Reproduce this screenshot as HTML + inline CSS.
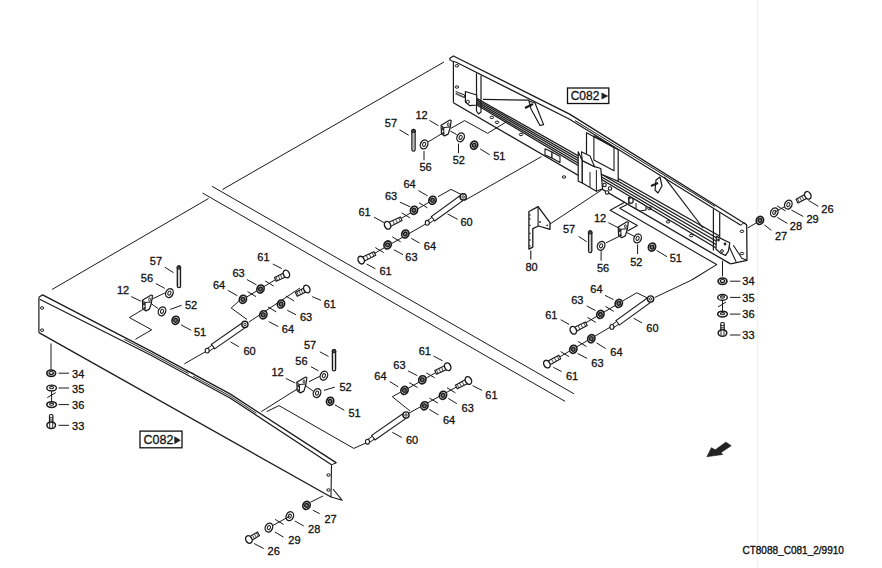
<!DOCTYPE html>
<html><head><meta charset="utf-8"><style>
html,body{margin:0;padding:0;background:#fff;}
svg{display:block;}
text{font-family:"Liberation Sans",sans-serif;fill:#111;}
</style></head><body>
<svg width="882" height="568" viewBox="0 0 882 568">
<rect width="882" height="568" fill="#fff"/>
<line x1="757.5" y1="0.0" x2="757.5" y2="568.0" stroke="#e8e8e8" stroke-width="0.6"/>
<line x1="52.0" y1="289.5" x2="208.5" y2="198.5" stroke="#1a1a1a" stroke-width="1.0"/>
<line x1="222.5" y1="189.5" x2="444.0" y2="62.0" stroke="#1a1a1a" stroke-width="1.0"/>
<line x1="212.0" y1="186.3" x2="574.0" y2="393.8" stroke="#1a1a1a" stroke-width="1.0"/>
<line x1="202.5" y1="193.0" x2="565.0" y2="401.3" stroke="#1a1a1a" stroke-width="1.0"/>
<polyline points="449.5,58.5 453.4,56.0 569.6,114.1 746.7,224.8" fill="none" stroke="#1a1a1a" stroke-width="1.3" stroke-linejoin="round"/>
<polyline points="450.5,60.5 456.2,62.3 569.2,119.0 740.8,225.3" fill="none" stroke="#1a1a1a" stroke-width="1.2" stroke-linejoin="round"/>
<line x1="449.5" y1="58.5" x2="450.5" y2="60.5" stroke="#1a1a1a" stroke-width="1.2"/>
<polyline points="575.0,120.6 650.0,166.4 715.0,206.5" fill="none" stroke="#1a1a1a" stroke-width="1.0" stroke-linejoin="round"/>
<line x1="453.4" y1="61.3" x2="453.4" y2="102.8" stroke="#1a1a1a" stroke-width="1.2"/>
<line x1="453.4" y1="102.8" x2="730.5" y2="263.9" stroke="#1a1a1a" stroke-width="1.3"/>
<polyline points="746.7,224.8 747.0,260.4 730.5,263.9" fill="none" stroke="#1a1a1a" stroke-width="1.3" stroke-linejoin="round"/>
<polyline points="740.8,225.3 744.0,222.5 746.7,224.8" fill="none" stroke="#1a1a1a" stroke-width="1.0" stroke-linejoin="round"/>
<polyline points="729.0,246.3 736.1,261.8" fill="none" stroke="#1a1a1a" stroke-width="1.1" stroke-linejoin="round"/>
<polyline points="733.3,245.2 741.8,258.2 746.5,260.0" fill="none" stroke="#1a1a1a" stroke-width="1.1" stroke-linejoin="round"/>
<line x1="466.0" y1="92.3" x2="719.5" y2="236.0" stroke="#1a1a1a" stroke-width="1.3"/>
<line x1="466.0" y1="93.8" x2="719.5" y2="239.5" stroke="#1a1a1a" stroke-width="1.3"/>
<line x1="466.0" y1="95.4" x2="719.5" y2="243.0" stroke="#1a1a1a" stroke-width="1.3"/>
<line x1="466.0" y1="97.0" x2="719.5" y2="246.5" stroke="#1a1a1a" stroke-width="1.3"/>
<line x1="466.0" y1="98.5" x2="719.5" y2="250.0" stroke="#1a1a1a" stroke-width="1.3"/>
<polyline points="476.5,73.2 476.5,111.0 478.5,114.0 481.0,112.0 481.0,75.5" fill="none" stroke="#1a1a1a" stroke-width="1.2" stroke-linejoin="round"/>
<polyline points="713.4,209.2 713.4,250.4" fill="none" stroke="#1a1a1a" stroke-width="1.2" stroke-linejoin="round"/>
<polyline points="719.7,212.8 719.7,252.0" fill="none" stroke="#1a1a1a" stroke-width="1.2" stroke-linejoin="round"/>
<line x1="483.0" y1="99.3" x2="529.5" y2="100.2" stroke="#1a1a1a" stroke-width="1.2"/>
<line x1="664.2" y1="176.9" x2="703.0" y2="228.0" stroke="#1a1a1a" stroke-width="1.2"/>
<polygon points="465.4,91.5 476.7,95.0 476.7,105.0 469.6,105.6 465.4,102.0" fill="#fff" stroke="#1a1a1a" stroke-width="1.2" stroke-linejoin="round"/>
<circle cx="467.8" cy="101.8" r="1.6" fill="#fff" stroke="#1a1a1a" stroke-width="1"/>
<polyline points="455.6,91.5 464.7,95.0 464.7,98.0" fill="none" stroke="#1a1a1a" stroke-width="1.0" stroke-linejoin="round"/>
<line x1="455.6" y1="93.5" x2="464.5" y2="97.5" stroke="#555" stroke-width="1.6"/>
<polygon points="529.0,101.0 535.0,103.0 543.6,124.6 540.0,125.5 531.0,109.0" fill="#fff" stroke="#1a1a1a" stroke-width="1.2" stroke-linejoin="round"/>
<line x1="525.0" y1="108.0" x2="533.0" y2="104.0" stroke="#1a1a1a" stroke-width="2.2"/>
<polygon points="656.0,180.0 660.0,177.0 662.0,186.0 658.0,193.0 655.0,190.0" fill="#fff" stroke="#1a1a1a" stroke-width="1.2" stroke-linejoin="round"/>
<line x1="651.0" y1="186.0" x2="658.0" y2="183.0" stroke="#1a1a1a" stroke-width="2.0"/>
<polygon points="586.5,132.7 586.5,168.0 618.2,181.3 618.2,149.6" fill="#fff" stroke="#1a1a1a" stroke-width="1.2" stroke-linejoin="round"/>
<polyline points="593.9,135.8 593.9,160.1 614.0,170.7 614.0,147.5 593.9,135.8" fill="none" stroke="#1a1a1a" stroke-width="1.1" stroke-linejoin="round"/>
<polygon points="578.2,151.8 578.2,181.2 582.3,183.0 582.3,160.6" fill="#fff" stroke="#1a1a1a" stroke-width="1.2" stroke-linejoin="round"/>
<polygon points="582.3,160.6 582.3,183.0 596.4,191.3 602.5,188.7 600.8,168.5 594.6,166.7" fill="#fff" stroke="#1a1a1a" stroke-width="1.2" stroke-linejoin="round"/>
<polygon points="581.4,151.8 590.0,156.0 594.6,166.7 582.3,160.6" fill="#fff" stroke="#1a1a1a" stroke-width="1.1" stroke-linejoin="round"/>
<line x1="596.4" y1="170.0" x2="596.4" y2="191.3" stroke="#1a1a1a" stroke-width="1.0"/>
<line x1="590.0" y1="172.0" x2="590.0" y2="187.0" stroke="#1a1a1a" stroke-width="1.0"/>
<circle cx="604.5" cy="185" r="1.7" fill="#fff" stroke="#1a1a1a" stroke-width="1.1"/>
<circle cx="610" cy="188.5" r="1.7" fill="#fff" stroke="#1a1a1a" stroke-width="1.1"/>
<circle cx="607" cy="192.5" r="1.7" fill="#fff" stroke="#1a1a1a" stroke-width="1.1"/>
<polyline points="552.0,156.0 560.0,162.0" fill="none" stroke="#1a1a1a" stroke-width="1.0" stroke-linejoin="round"/>
<ellipse cx="456.9" cy="65.8" rx="1.8" ry="1.2" fill="none" stroke="#1a1a1a" stroke-width="1"/>
<ellipse cx="456.9" cy="87" rx="1.8" ry="1.2" fill="none" stroke="#1a1a1a" stroke-width="1"/>
<ellipse cx="491.8" cy="117.4" rx="1.8" ry="1.2" fill="none" stroke="#1a1a1a" stroke-width="1"/>
<ellipse cx="497" cy="122.3" rx="1.8" ry="1.2" fill="none" stroke="#1a1a1a" stroke-width="1"/>
<ellipse cx="521" cy="134.5" rx="1.8" ry="1.2" fill="none" stroke="#1a1a1a" stroke-width="1"/>
<ellipse cx="564" cy="177" rx="1.8" ry="1.2" fill="none" stroke="#1a1a1a" stroke-width="1"/>
<ellipse cx="668" cy="221.8" rx="1.8" ry="1.2" fill="none" stroke="#1a1a1a" stroke-width="1"/>
<ellipse cx="691.2" cy="235.6" rx="1.8" ry="1.2" fill="none" stroke="#1a1a1a" stroke-width="1"/>
<ellipse cx="741.9" cy="231.3" rx="1.8" ry="1.2" fill="none" stroke="#1a1a1a" stroke-width="1"/>
<ellipse cx="741.9" cy="253.5" rx="1.8" ry="1.2" fill="none" stroke="#1a1a1a" stroke-width="1"/>
<polygon points="545.0,148.7 552.0,152.0 552.0,158.0 545.0,155.0" fill="#fff" stroke="#1a1a1a" stroke-width="1.1" stroke-linejoin="round"/>
<polygon points="552.0,152.0 560.0,156.5 560.0,162.5 552.0,158.0" fill="#fff" stroke="#1a1a1a" stroke-width="1.1" stroke-linejoin="round"/>
<polygon points="628.5,197.5 634.0,199.0 646.0,206.0 646.0,210.0 640.0,211.0 629.0,205.0" fill="#fff" stroke="#1a1a1a" stroke-width="1.2" stroke-linejoin="round"/>
<ellipse cx="631" cy="200.5" rx="2.2" ry="2.8" fill="#fff" stroke="#1a1a1a" stroke-width="1.2"/>
<line x1="636.0" y1="203.0" x2="636.0" y2="209.0" stroke="#1a1a1a" stroke-width="1.0"/>
<ellipse cx="649.5" cy="208.5" rx="1.8" ry="1.3" fill="none" stroke="#1a1a1a" stroke-width="1"/>
<polygon points="716.4,236.4 729.8,242.7 728.4,251.2 725.6,255.4 720.6,253.3 716.0,249.0" fill="#fff" stroke="#1a1a1a" stroke-width="1.2" stroke-linejoin="round"/>
<circle cx="718.5" cy="240" r="1.4" fill="#222"/>
<circle cx="725" cy="244" r="1.4" fill="#222"/>
<circle cx="722" cy="251" r="1.4" fill="#fff" stroke="#1a1a1a" stroke-width="1"/>
<polyline points="38.9,297.3 42.6,294.8 150.0,350.6 230.0,393.9 336.4,462.9" fill="none" stroke="#1a1a1a" stroke-width="1.3" stroke-linejoin="round"/>
<polyline points="39.7,299.2 150.0,354.8 230.0,398.0 331.5,464.7" fill="none" stroke="#1a1a1a" stroke-width="1.2" stroke-linejoin="round"/>
<line x1="38.9" y1="297.3" x2="38.9" y2="332.6" stroke="#1a1a1a" stroke-width="1.2"/>
<line x1="38.9" y1="332.6" x2="331.0" y2="497.0" stroke="#1a1a1a" stroke-width="1.3"/>
<line x1="331.5" y1="464.7" x2="331.0" y2="497.0" stroke="#1a1a1a" stroke-width="1.1"/>
<line x1="336.4" y1="462.9" x2="331.5" y2="464.7" stroke="#1a1a1a" stroke-width="1.0"/>
<polyline points="331.0,497.0 342.2,500.3 333.0,489.0" fill="none" stroke="#1a1a1a" stroke-width="1.1" stroke-linejoin="round"/>
<polyline points="124.3,339.4 150.0,352.8 188.7,373.7" fill="none" stroke="#1a1a1a" stroke-width="0.9" stroke-linejoin="round"/>
<polyline points="193.0,376.1 230.0,396.1 256.3,413.2" fill="none" stroke="#1a1a1a" stroke-width="0.9" stroke-linejoin="round"/>
<line x1="186.0" y1="370.6" x2="194.0" y2="373.8" stroke="#1a1a1a" stroke-width="1.0"/>
<ellipse cx="42.1" cy="307.9" rx="1.6" ry="1.3" fill="none" stroke="#1a1a1a" stroke-width="1"/>
<ellipse cx="42.1" cy="330.2" rx="1.6" ry="1.3" fill="none" stroke="#1a1a1a" stroke-width="1"/>
<ellipse cx="328.5" cy="475" rx="1.6" ry="1.3" fill="none" stroke="#1a1a1a" stroke-width="1"/>
<ellipse cx="328.5" cy="490" rx="1.6" ry="1.3" fill="none" stroke="#1a1a1a" stroke-width="1"/>
<rect x="567.5" y="88" width="41.3" height="15.5" fill="#fff" stroke="#111" stroke-width="1.3"/>
<text x="570.7" y="99.8" font-size="12" stroke="#111" stroke-width="0.3">C082</text>
<polygon points="601.5,92.6 608.3,96 601.5,99.4" fill="#222"/>
<rect x="140" y="431.1" width="42" height="16.7" fill="#fff" stroke="#111" stroke-width="1.3"/>
<text x="143.5" y="444.1" font-size="12.5" stroke="#111" stroke-width="0.3">C082</text>
<polygon points="174.3,436.3 180.8,440.2 174.3,444.2" fill="#222"/>
<polygon points="706.9,456.7 711.4,447.7 715.3,449.8 725.9,442.1 731.2,445.8 721.1,452.4 722.7,454.5" fill="#222" stroke="#222" stroke-width="0.6" stroke-linejoin="round"/>
<text x="742.4" y="554.3" font-size="10.6" textLength="101.5" lengthAdjust="spacingAndGlyphs" stroke="#111" stroke-width="0.35">CT8088_C081_2/9910</text>
<text x="384.8" y="127.3" font-size="11" stroke="#111" stroke-width="0.3">57</text>
<line x1="399.5" y1="129.8" x2="408.7" y2="135.2" stroke="#1a1a1a" stroke-width="1.0"/>
<rect x="411.9" y="129.4" width="3.2" height="21.7" rx="1.6" fill="#fff" stroke="#1a1a1a" stroke-width="1.3"/>
<ellipse cx="413.5" cy="131.0" rx="1.9" ry="1.7" fill="#444" stroke="#1a1a1a" stroke-width="1"/>
<line x1="413.5" y1="133.4" x2="413.5" y2="149.6" stroke="#888" stroke-width="0.6"/>
<text x="415.4" y="118.7" font-size="11" stroke="#111" stroke-width="0.3">12</text>
<line x1="429.4" y1="120.3" x2="438.4" y2="125.7" stroke="#1a1a1a" stroke-width="1.0"/>
<polygon points="441.1,125.3 449.9,120.0 451.2,120.5 450.1,128.0 448.1,134.1 444.6,135.9 441.5,133.7" fill="#fff" stroke="#1a1a1a" stroke-width="1.2" stroke-linejoin="round"/>
<line x1="441.1" y1="125.3" x2="443.8" y2="127.5" stroke="#1a1a1a" stroke-width="1.0"/>
<line x1="443.8" y1="127.5" x2="450.1" y2="127.0" stroke="#1a1a1a" stroke-width="1.0"/>
<line x1="443.8" y1="127.5" x2="443.8" y2="134.0" stroke="#1a1a1a" stroke-width="1.0"/>
<ellipse cx="442.8" cy="128.8" rx="1.3" ry="1.8" fill="#333"/>
<ellipse cx="443.3" cy="133.5" rx="1.2" ry="1.5" fill="#333"/>
<ellipse cx="448.3" cy="124.5" rx="0.9" ry="1.6" fill="none" stroke="#1a1a1a" stroke-width="0.9"/>
<ellipse cx="424.1" cy="144.4" rx="3.6" ry="4.6" fill="#fff" stroke="#1a1a1a" stroke-width="1.3" transform="rotate(25 424.1 144.4)"/>
<ellipse cx="424.1" cy="144.4" rx="1.5" ry="2.1" fill="none" stroke="#1a1a1a" stroke-width="1" transform="rotate(25 424.1 144.4)"/>
<line x1="424.0" y1="151.0" x2="424.0" y2="160.3" stroke="#1a1a1a" stroke-width="1.0"/>
<text x="419.4" y="171.4" font-size="11" stroke="#111" stroke-width="0.3">56</text>
<line x1="428.0" y1="142.0" x2="442.4" y2="133.3" stroke="#1a1a1a" stroke-width="1.0"/>
<ellipse cx="460.6" cy="137.3" rx="3.6" ry="4.6" fill="#fff" stroke="#1a1a1a" stroke-width="1.3" transform="rotate(25 460.6 137.3)"/>
<ellipse cx="460.6" cy="137.3" rx="1.5" ry="2.1" fill="none" stroke="#1a1a1a" stroke-width="1" transform="rotate(25 460.6 137.3)"/>
<line x1="458.5" y1="143.6" x2="458.5" y2="153.2" stroke="#1a1a1a" stroke-width="1.0"/>
<text x="452.7" y="164.2" font-size="11" stroke="#111" stroke-width="0.3">52</text>
<line x1="450.3" y1="131.0" x2="456.7" y2="134.6" stroke="#1a1a1a" stroke-width="1.0"/>
<ellipse cx="474.1" cy="145.2" rx="3.5" ry="4.1" fill="#fff" stroke="#1a1a1a" stroke-width="1.7" transform="rotate(25 474.1 145.2)"/>
<ellipse cx="474.1" cy="145.2" rx="1.8" ry="2.0" fill="#777" stroke="#1a1a1a" stroke-width="1.3" transform="rotate(25 474.1 145.2)"/>
<line x1="480.2" y1="148.9" x2="489.7" y2="154.8" stroke="#1a1a1a" stroke-width="1.0"/>
<text x="493.2" y="160.3" font-size="11" stroke="#111" stroke-width="0.3">51</text>
<polyline points="451.0,128.3 464.6,120.6 487.6,133.3 507.0,121.5" fill="none" stroke="#1a1a1a" stroke-width="1" stroke-linejoin="round"/>
<text x="403.4" y="188.3" font-size="11" stroke="#111" stroke-width="0.3">64</text>
<line x1="418.4" y1="190.5" x2="427.6" y2="195.9" stroke="#1a1a1a" stroke-width="1.0"/>
<text x="384.9" y="200.0" font-size="11" stroke="#111" stroke-width="0.3">63</text>
<line x1="399.9" y1="202.2" x2="410.2" y2="206.8" stroke="#1a1a1a" stroke-width="1.0"/>
<text x="358.5" y="215.5" font-size="11" stroke="#111" stroke-width="0.3">61</text>
<line x1="374.0" y1="217.1" x2="384.0" y2="222.6" stroke="#1a1a1a" stroke-width="1.0"/>
<line x1="397.7" y1="220.4" x2="432.5" y2="200.3" stroke="#1a1a1a" stroke-width="1"/>
<line x1="401.7" y1="212.9" x2="410.1" y2="217.9" stroke="#1a1a1a" stroke-width="1.0"/>
<line x1="419.0" y1="202.8" x2="427.4" y2="207.8" stroke="#1a1a1a" stroke-width="1.0"/>
<ellipse cx="432.5" cy="200.3" rx="3.5" ry="4.1" fill="#fff" stroke="#1a1a1a" stroke-width="1.7" transform="rotate(25 432.5 200.3)"/>
<ellipse cx="432.5" cy="200.3" rx="1.8" ry="2.0" fill="#777" stroke="#1a1a1a" stroke-width="1.3" transform="rotate(25 432.5 200.3)"/>
<ellipse cx="414.0" cy="210.3" rx="3.5" ry="4.1" fill="#fff" stroke="#1a1a1a" stroke-width="1.7" transform="rotate(25 414.0 210.3)"/>
<ellipse cx="414.0" cy="210.3" rx="1.8" ry="2.0" fill="#777" stroke="#1a1a1a" stroke-width="1.3" transform="rotate(25 414.0 210.3)"/>
<polygon points="390.4,226.4 402.1,220.5 400.4,216.9 388.4,222.4" fill="#fff" stroke="#1a1a1a" stroke-width="1.1"/>
<line x1="394.4" y1="224.2" x2="392.7" y2="220.6" stroke="#1a1a1a" stroke-width="0.8"/>
<line x1="397.4" y1="222.8" x2="395.6" y2="219.2" stroke="#1a1a1a" stroke-width="0.8"/>
<line x1="400.3" y1="221.3" x2="398.6" y2="217.7" stroke="#1a1a1a" stroke-width="0.8"/>
<ellipse cx="387.6" cy="225.3" rx="3" ry="4" fill="#fff" stroke="#1a1a1a" stroke-width="1.4" transform="rotate(-25.9 387.6 225.3)"/>
<polyline points="438.0,196.7 451.0,189.4 461.9,194.8" fill="none" stroke="#1a1a1a" stroke-width="1" stroke-linejoin="round"/>
<line x1="464.5" y1="200.5" x2="541.5" y2="156.6" stroke="#1a1a1a" stroke-width="1"/>
<polygon points="434.6,221.0 462.8,200.6 459.5,196.1 431.3,216.5" fill="#fff" stroke="#1a1a1a" stroke-width="1.1"/>
<polygon points="429.1,223.6 434.0,220.1 432.0,217.3 427.1,220.9" fill="#fff" stroke="#1a1a1a" stroke-width="1"/>
<ellipse cx="427.3" cy="222.8" rx="2" ry="2.4" fill="#fff" stroke="#1a1a1a" stroke-width="1.1"/>
<circle cx="463.2" cy="196.9" r="3.1" fill="#fff" stroke="#1a1a1a" stroke-width="1.4"/>
<circle cx="463.2" cy="196.9" r="1.2" fill="none" stroke="#1a1a1a" stroke-width="0.9"/>
<line x1="447.5" y1="213.9" x2="457.6" y2="219.3" stroke="#1a1a1a" stroke-width="1.0"/>
<text x="460.5" y="225.6" font-size="11" stroke="#111" stroke-width="0.3">60</text>
<line x1="371.3" y1="255.2" x2="425.7" y2="224.0" stroke="#1a1a1a" stroke-width="1"/>
<line x1="375.3" y1="247.6" x2="383.7" y2="252.6" stroke="#1a1a1a" stroke-width="1.0"/>
<line x1="392.3" y1="236.9" x2="400.7" y2="241.9" stroke="#1a1a1a" stroke-width="1.0"/>
<ellipse cx="405.3" cy="234.0" rx="3.5" ry="4.1" fill="#fff" stroke="#1a1a1a" stroke-width="1.7" transform="rotate(25 405.3 234.0)"/>
<ellipse cx="405.3" cy="234.0" rx="1.8" ry="2.0" fill="#777" stroke="#1a1a1a" stroke-width="1.3" transform="rotate(25 405.3 234.0)"/>
<line x1="411.3" y1="238.4" x2="419.5" y2="243.0" stroke="#1a1a1a" stroke-width="1.0"/>
<text x="423.8" y="250.3" font-size="11" stroke="#111" stroke-width="0.3">64</text>
<ellipse cx="387.6" cy="244.9" rx="3.5" ry="4.1" fill="#fff" stroke="#1a1a1a" stroke-width="1.7" transform="rotate(25 387.6 244.9)"/>
<ellipse cx="387.6" cy="244.9" rx="1.8" ry="2.0" fill="#777" stroke="#1a1a1a" stroke-width="1.3" transform="rotate(25 387.6 244.9)"/>
<line x1="393.9" y1="249.8" x2="403.1" y2="254.7" stroke="#1a1a1a" stroke-width="1.0"/>
<text x="405.3" y="261.0" font-size="11" stroke="#111" stroke-width="0.3">63</text>
<polygon points="364.0,261.2 375.7,255.3 374.0,251.7 362.0,257.2" fill="#fff" stroke="#1a1a1a" stroke-width="1.1"/>
<line x1="368.0" y1="259.0" x2="366.3" y2="255.4" stroke="#1a1a1a" stroke-width="0.8"/>
<line x1="371.0" y1="257.6" x2="369.2" y2="254.0" stroke="#1a1a1a" stroke-width="0.8"/>
<line x1="373.9" y1="256.1" x2="372.2" y2="252.5" stroke="#1a1a1a" stroke-width="0.8"/>
<ellipse cx="361.2" cy="260.1" rx="3" ry="4" fill="#fff" stroke="#1a1a1a" stroke-width="1.4" transform="rotate(-25.9 361.2 260.1)"/>
<line x1="366.7" y1="264.0" x2="375.4" y2="268.8" stroke="#1a1a1a" stroke-width="1.0"/>
<text x="379.5" y="275.4" font-size="11" stroke="#111" stroke-width="0.3">61</text>
<polygon points="528.9,211.5 538.1,206.6 550.0,222.7 550.0,229.3 538.7,226.0 532.8,228.6 532.8,247.1 528.9,249.1" fill="#fff" stroke="#1a1a1a" stroke-width="1.3" stroke-linejoin="round"/>
<line x1="538.1" y1="206.6" x2="538.1" y2="226.0" stroke="#1a1a1a" stroke-width="1.1"/>
<line x1="529.3" y1="214.8" x2="530.6" y2="214.8" stroke="#1a1a1a" stroke-width="1.3"/>
<line x1="529.3" y1="218.8" x2="530.6" y2="218.8" stroke="#1a1a1a" stroke-width="1.3"/>
<line x1="529.3" y1="225.3" x2="530.6" y2="225.3" stroke="#1a1a1a" stroke-width="1.3"/>
<line x1="529.3" y1="233.3" x2="530.6" y2="233.3" stroke="#1a1a1a" stroke-width="1.3"/>
<line x1="529.3" y1="240.0" x2="530.6" y2="240.0" stroke="#1a1a1a" stroke-width="1.3"/>
<line x1="529.3" y1="245.8" x2="530.6" y2="245.8" stroke="#1a1a1a" stroke-width="1.3"/>
<circle cx="540" cy="222" r="0.9" fill="#222"/>
<circle cx="547.3" cy="225.3" r="0.9" fill="#222"/>
<line x1="530.8" y1="250.4" x2="530.8" y2="259.6" stroke="#1a1a1a" stroke-width="1.1"/>
<text x="525.4" y="270.8" font-size="11" stroke="#111" stroke-width="0.3">80</text>
<line x1="550.0" y1="224.0" x2="601.6" y2="190.0" stroke="#1a1a1a" stroke-width="1"/>
<text x="563.0" y="233.3" font-size="11" stroke="#111" stroke-width="0.3">57</text>
<line x1="578.5" y1="236.3" x2="586.7" y2="241.7" stroke="#1a1a1a" stroke-width="1.0"/>
<rect x="588.6" y="230.8" width="3.2" height="21.8" rx="1.6" fill="#fff" stroke="#1a1a1a" stroke-width="1.3"/>
<ellipse cx="590.2" cy="232.4" rx="1.9" ry="1.7" fill="#444" stroke="#1a1a1a" stroke-width="1"/>
<line x1="590.2" y1="234.8" x2="590.2" y2="251.1" stroke="#888" stroke-width="0.6"/>
<text x="594.0" y="222.4" font-size="11" stroke="#111" stroke-width="0.3">12</text>
<line x1="608.4" y1="222.7" x2="618.0" y2="227.6" stroke="#1a1a1a" stroke-width="1.0"/>
<polygon points="618.2,227.1 627.0,221.8 628.3,222.3 627.2,229.8 625.2,235.9 621.7,237.7 618.6,235.5" fill="#fff" stroke="#1a1a1a" stroke-width="1.2" stroke-linejoin="round"/>
<line x1="618.2" y1="227.1" x2="620.9" y2="229.3" stroke="#1a1a1a" stroke-width="1.0"/>
<line x1="620.9" y1="229.3" x2="627.2" y2="228.8" stroke="#1a1a1a" stroke-width="1.0"/>
<line x1="620.9" y1="229.3" x2="620.9" y2="235.8" stroke="#1a1a1a" stroke-width="1.0"/>
<ellipse cx="619.9" cy="230.6" rx="1.3" ry="1.8" fill="#333"/>
<ellipse cx="620.4" cy="235.3" rx="1.2" ry="1.5" fill="#333"/>
<ellipse cx="625.4" cy="226.3" rx="0.9" ry="1.6" fill="none" stroke="#1a1a1a" stroke-width="0.9"/>
<ellipse cx="601.1" cy="245.8" rx="3.6" ry="4.6" fill="#fff" stroke="#1a1a1a" stroke-width="1.3" transform="rotate(25 601.1 245.8)"/>
<ellipse cx="601.1" cy="245.8" rx="1.5" ry="2.1" fill="none" stroke="#1a1a1a" stroke-width="1" transform="rotate(25 601.1 245.8)"/>
<line x1="601.1" y1="251.2" x2="601.1" y2="260.7" stroke="#1a1a1a" stroke-width="1.0"/>
<text x="597.0" y="271.9" font-size="11" stroke="#111" stroke-width="0.3">56</text>
<line x1="605.7" y1="243.0" x2="619.3" y2="236.3" stroke="#1a1a1a" stroke-width="1.0"/>
<ellipse cx="637.6" cy="238.4" rx="3.6" ry="4.6" fill="#fff" stroke="#1a1a1a" stroke-width="1.3" transform="rotate(25 637.6 238.4)"/>
<ellipse cx="637.6" cy="238.4" rx="1.5" ry="2.1" fill="none" stroke="#1a1a1a" stroke-width="1" transform="rotate(25 637.6 238.4)"/>
<line x1="637.6" y1="244.4" x2="637.6" y2="254.0" stroke="#1a1a1a" stroke-width="1.0"/>
<text x="630.2" y="265.9" font-size="11" stroke="#111" stroke-width="0.3">52</text>
<line x1="626.0" y1="232.2" x2="634.3" y2="236.3" stroke="#1a1a1a" stroke-width="1.0"/>
<ellipse cx="652.0" cy="247.1" rx="3.5" ry="4.1" fill="#fff" stroke="#1a1a1a" stroke-width="1.7" transform="rotate(25 652.0 247.1)"/>
<ellipse cx="652.0" cy="247.1" rx="1.8" ry="2.0" fill="#777" stroke="#1a1a1a" stroke-width="1.3" transform="rotate(25 652.0 247.1)"/>
<line x1="656.6" y1="250.4" x2="667.0" y2="256.7" stroke="#1a1a1a" stroke-width="1.0"/>
<text x="669.7" y="261.9" font-size="11" stroke="#111" stroke-width="0.3">51</text>
<polyline points="624.7,202.2 610.1,210.3 637.4,225.5 627.5,231.0" fill="none" stroke="#1a1a1a" stroke-width="1.1" stroke-linejoin="round"/>
<polyline points="627.1,204.6 619.7,208.3 716.6,264.6 691.7,280.0" fill="none" stroke="#1a1a1a" stroke-width="1.1" stroke-linejoin="round"/>
<text x="590.3" y="292.7" font-size="11" stroke="#111" stroke-width="0.3">64</text>
<line x1="605.0" y1="295.4" x2="613.5" y2="299.6" stroke="#1a1a1a" stroke-width="1.0"/>
<text x="571.2" y="304.3" font-size="11" stroke="#111" stroke-width="0.3">63</text>
<line x1="586.7" y1="305.9" x2="595.5" y2="310.6" stroke="#1a1a1a" stroke-width="1.0"/>
<text x="545.2" y="318.5" font-size="11" stroke="#111" stroke-width="0.3">61</text>
<line x1="560.7" y1="319.7" x2="569.1" y2="324.5" stroke="#1a1a1a" stroke-width="1.0"/>
<line x1="582.9" y1="324.5" x2="618.8" y2="303.4" stroke="#1a1a1a" stroke-width="1"/>
<line x1="587.4" y1="317.4" x2="595.8" y2="322.4" stroke="#1a1a1a" stroke-width="1.0"/>
<line x1="605.4" y1="306.4" x2="613.8" y2="311.4" stroke="#1a1a1a" stroke-width="1.0"/>
<ellipse cx="618.8" cy="303.4" rx="3.5" ry="4.1" fill="#fff" stroke="#1a1a1a" stroke-width="1.7" transform="rotate(25 618.8 303.4)"/>
<ellipse cx="618.8" cy="303.4" rx="1.8" ry="2.0" fill="#777" stroke="#1a1a1a" stroke-width="1.3" transform="rotate(25 618.8 303.4)"/>
<ellipse cx="600.4" cy="314.4" rx="3.5" ry="4.1" fill="#fff" stroke="#1a1a1a" stroke-width="1.7" transform="rotate(25 600.4 314.4)"/>
<ellipse cx="600.4" cy="314.4" rx="1.8" ry="2.0" fill="#777" stroke="#1a1a1a" stroke-width="1.3" transform="rotate(25 600.4 314.4)"/>
<polygon points="576.1,331.4 587.2,325.5 585.4,321.9 574.1,327.4" fill="#fff" stroke="#1a1a1a" stroke-width="1.1"/>
<line x1="579.9" y1="329.2" x2="578.1" y2="325.6" stroke="#1a1a1a" stroke-width="0.8"/>
<line x1="582.7" y1="327.7" x2="580.9" y2="324.2" stroke="#1a1a1a" stroke-width="0.8"/>
<line x1="585.5" y1="326.3" x2="583.7" y2="322.8" stroke="#1a1a1a" stroke-width="0.8"/>
<ellipse cx="573.3" cy="330.3" rx="3" ry="4" fill="#fff" stroke="#1a1a1a" stroke-width="1.4" transform="rotate(-27.0 573.3 330.3)"/>
<polyline points="623.0,300.7 636.8,292.8 648.4,298.5" fill="none" stroke="#1a1a1a" stroke-width="1" stroke-linejoin="round"/>
<line x1="654.7" y1="297.5" x2="691.7" y2="280.0" stroke="#1a1a1a" stroke-width="1"/>
<polygon points="619.2,325.1 650.2,302.7 646.9,298.2 616.0,320.6" fill="#fff" stroke="#1a1a1a" stroke-width="1.1"/>
<polygon points="613.7,327.7 618.6,324.2 616.6,321.4 611.7,325.0" fill="#fff" stroke="#1a1a1a" stroke-width="1"/>
<ellipse cx="611.9" cy="326.9" rx="2" ry="2.4" fill="#fff" stroke="#1a1a1a" stroke-width="1.1"/>
<circle cx="650.6" cy="299.0" r="3.1" fill="#fff" stroke="#1a1a1a" stroke-width="1.4"/>
<circle cx="650.6" cy="299.0" r="1.2" fill="none" stroke="#1a1a1a" stroke-width="0.9"/>
<line x1="633.6" y1="318.2" x2="642.0" y2="322.9" stroke="#1a1a1a" stroke-width="1.0"/>
<text x="646.3" y="331.8" font-size="11" stroke="#111" stroke-width="0.3">60</text>
<line x1="556.4" y1="358.8" x2="610.3" y2="327.1" stroke="#1a1a1a" stroke-width="1"/>
<line x1="560.6" y1="351.6" x2="569.0" y2="356.6" stroke="#1a1a1a" stroke-width="1.0"/>
<line x1="578.1" y1="341.5" x2="586.5" y2="346.5" stroke="#1a1a1a" stroke-width="1.0"/>
<ellipse cx="591.3" cy="338.7" rx="3.5" ry="4.1" fill="#fff" stroke="#1a1a1a" stroke-width="1.7" transform="rotate(25 591.3 338.7)"/>
<ellipse cx="591.3" cy="338.7" rx="1.8" ry="2.0" fill="#777" stroke="#1a1a1a" stroke-width="1.3" transform="rotate(25 591.3 338.7)"/>
<line x1="596.6" y1="342.9" x2="605.7" y2="348.6" stroke="#1a1a1a" stroke-width="1.0"/>
<text x="610.3" y="355.7" font-size="11" stroke="#111" stroke-width="0.3">64</text>
<ellipse cx="573.3" cy="349.3" rx="3.5" ry="4.1" fill="#fff" stroke="#1a1a1a" stroke-width="1.7" transform="rotate(25 573.3 349.3)"/>
<ellipse cx="573.3" cy="349.3" rx="1.8" ry="2.0" fill="#777" stroke="#1a1a1a" stroke-width="1.3" transform="rotate(25 573.3 349.3)"/>
<line x1="577.6" y1="353.5" x2="587.1" y2="358.4" stroke="#1a1a1a" stroke-width="1.0"/>
<text x="591.3" y="366.7" font-size="11" stroke="#111" stroke-width="0.3">63</text>
<polygon points="549.7,365.0 560.7,358.7 558.8,355.2 547.6,361.2" fill="#fff" stroke="#1a1a1a" stroke-width="1.1"/>
<line x1="553.5" y1="362.7" x2="551.5" y2="359.2" stroke="#1a1a1a" stroke-width="0.8"/>
<line x1="556.3" y1="361.2" x2="554.3" y2="357.7" stroke="#1a1a1a" stroke-width="0.8"/>
<line x1="559.0" y1="359.6" x2="557.1" y2="356.1" stroke="#1a1a1a" stroke-width="0.8"/>
<ellipse cx="546.9" cy="364.1" rx="3" ry="4" fill="#fff" stroke="#1a1a1a" stroke-width="1.4" transform="rotate(-29.2 546.9 364.1)"/>
<line x1="553.3" y1="367.3" x2="561.7" y2="371.5" stroke="#1a1a1a" stroke-width="1.0"/>
<text x="565.9" y="380.4" font-size="11" stroke="#111" stroke-width="0.3">61</text>
<line x1="722.5" y1="260.8" x2="722.5" y2="276.4" stroke="#1a1a1a" stroke-width="1"/>
<ellipse cx="722.5" cy="281.2" rx="4.4" ry="3.2" fill="#fff" stroke="#1a1a1a" stroke-width="1.7"/>
<ellipse cx="722.5" cy="280.9" rx="2.2" ry="1.4" fill="none" stroke="#1a1a1a" stroke-width="1.2"/>
<line x1="729.9" y1="281.2" x2="740.4" y2="281.2" stroke="#1a1a1a" stroke-width="1.0"/>
<text x="742.3" y="285.4" font-size="11" stroke="#111" stroke-width="0.3">34</text>
<line x1="722.5" y1="299.0" x2="722.5" y2="313.0" stroke="#1a1a1a" stroke-width="1"/>
<ellipse cx="722.5" cy="297.4" rx="4.8" ry="2.9" fill="#fff" stroke="#1a1a1a" stroke-width="1.4"/>
<ellipse cx="722.5" cy="297.0" rx="2" ry="1.1" fill="none" stroke="#1a1a1a" stroke-width="1.1"/>
<line x1="729.9" y1="297.4" x2="740.4" y2="297.4" stroke="#1a1a1a" stroke-width="1.0"/>
<text x="742.3" y="301.8" font-size="11" stroke="#111" stroke-width="0.3">35</text>
<line x1="718.0" y1="307.0" x2="726.0" y2="302.0" stroke="#1a1a1a" stroke-width="1"/>
<ellipse cx="722.5" cy="314.1" rx="4.8" ry="2.9" fill="#fff" stroke="#1a1a1a" stroke-width="1.6"/>
<ellipse cx="722.5" cy="313.7" rx="2" ry="1.1" fill="none" stroke="#1a1a1a" stroke-width="1.1"/>
<line x1="729.9" y1="314.1" x2="740.4" y2="314.1" stroke="#1a1a1a" stroke-width="1.0"/>
<text x="742.3" y="318.2" font-size="11" stroke="#111" stroke-width="0.3">36</text>
<rect x="720.8" y="322.5" width="3.4" height="10.5" rx="1.2" fill="#fff" stroke="#1a1a1a" stroke-width="1.2"/>
<line x1="720.8" y1="325.6" x2="724.2" y2="325.6" stroke="#1a1a1a" stroke-width="0.9"/>
<line x1="720.8" y1="327.8" x2="724.2" y2="327.8" stroke="#1a1a1a" stroke-width="0.9"/>
<line x1="720.8" y1="329.9" x2="724.2" y2="329.9" stroke="#1a1a1a" stroke-width="0.9"/>
<ellipse cx="722.5" cy="333.0" rx="4.3" ry="3.3" fill="#fff" stroke="#1a1a1a" stroke-width="1.5"/>
<line x1="721.0" y1="330.2" x2="721.0" y2="335.8" stroke="#1a1a1a" stroke-width="0.9"/>
<line x1="724.0" y1="330.2" x2="724.0" y2="335.8" stroke="#1a1a1a" stroke-width="0.9"/>
<line x1="729.9" y1="335.0" x2="740.4" y2="335.0" stroke="#1a1a1a" stroke-width="1.0"/>
<text x="742.3" y="339.2" font-size="11" stroke="#111" stroke-width="0.3">33</text>
<line x1="747.9" y1="227.9" x2="756.9" y2="222.5" stroke="#1a1a1a" stroke-width="1"/>
<ellipse cx="759.9" cy="220.4" rx="3.5" ry="4.1" fill="#fff" stroke="#1a1a1a" stroke-width="1.7" transform="rotate(25 759.9 220.4)"/>
<ellipse cx="759.9" cy="220.4" rx="1.8" ry="2.0" fill="#777" stroke="#1a1a1a" stroke-width="1.3" transform="rotate(25 759.9 220.4)"/>
<line x1="764.4" y1="224.9" x2="771.3" y2="230.3" stroke="#1a1a1a" stroke-width="1.0"/>
<text x="774.9" y="240.3" font-size="11" stroke="#111" stroke-width="0.3">27</text>
<ellipse cx="774.3" cy="212.3" rx="3.6" ry="4.6" fill="#fff" stroke="#1a1a1a" stroke-width="1.3" transform="rotate(25 774.3 212.3)"/>
<ellipse cx="774.3" cy="212.3" rx="1.5" ry="2.1" fill="none" stroke="#1a1a1a" stroke-width="1" transform="rotate(25 774.3 212.3)"/>
<line x1="777.2" y1="217.4" x2="787.4" y2="223.4" stroke="#1a1a1a" stroke-width="1.0"/>
<text x="789.8" y="229.8" font-size="11" stroke="#111" stroke-width="0.3">28</text>
<line x1="774.3" y1="212.3" x2="788.3" y2="204.6" stroke="#1a1a1a" stroke-width="1.0"/>
<line x1="777.1" y1="205.9" x2="785.5" y2="210.9" stroke="#1a1a1a" stroke-width="1.0"/>
<ellipse cx="788.3" cy="204.6" rx="3.6" ry="4.6" fill="#fff" stroke="#1a1a1a" stroke-width="1.3" transform="rotate(25 788.3 204.6)"/>
<ellipse cx="788.3" cy="204.6" rx="1.5" ry="2.1" fill="none" stroke="#1a1a1a" stroke-width="1" transform="rotate(25 788.3 204.6)"/>
<line x1="791.3" y1="210.0" x2="803.3" y2="216.5" stroke="#1a1a1a" stroke-width="1.0"/>
<text x="806.5" y="223.2" font-size="11" stroke="#111" stroke-width="0.3">29</text>
<polygon points="805.0,194.3 796.1,199.3 797.9,202.9 807.1,198.2" fill="#fff" stroke="#1a1a1a" stroke-width="1.1"/>
<line x1="801.9" y1="196.2" x2="803.8" y2="199.7" stroke="#1a1a1a" stroke-width="0.8"/>
<line x1="799.7" y1="197.4" x2="801.6" y2="200.9" stroke="#1a1a1a" stroke-width="0.8"/>
<line x1="797.4" y1="198.6" x2="799.3" y2="202.1" stroke="#1a1a1a" stroke-width="0.8"/>
<ellipse cx="807.8" cy="195.3" rx="3" ry="4" fill="#fff" stroke="#1a1a1a" stroke-width="1.4" transform="rotate(151.7 807.8 195.3)"/>
<line x1="808.4" y1="200.4" x2="818.3" y2="206.3" stroke="#1a1a1a" stroke-width="1.0"/>
<text x="821.3" y="212.5" font-size="11" stroke="#111" stroke-width="0.3">26</text>
<text x="149.8" y="264.8" font-size="11" stroke="#111" stroke-width="0.3">57</text>
<line x1="164.8" y1="267.2" x2="173.5" y2="272.7" stroke="#1a1a1a" stroke-width="1.0"/>
<rect x="177.3" y="265.9" width="3.2" height="21.7" rx="1.6" fill="#fff" stroke="#1a1a1a" stroke-width="1.3"/>
<ellipse cx="178.9" cy="267.5" rx="1.9" ry="1.7" fill="#444" stroke="#1a1a1a" stroke-width="1"/>
<line x1="178.9" y1="269.9" x2="178.9" y2="286.1" stroke="#888" stroke-width="0.6"/>
<text x="140.8" y="281.9" font-size="11" stroke="#111" stroke-width="0.3">56</text>
<line x1="155.8" y1="283.5" x2="164.8" y2="288.4" stroke="#1a1a1a" stroke-width="1.0"/>
<ellipse cx="169.4" cy="293.1" rx="3.6" ry="4.6" fill="#fff" stroke="#1a1a1a" stroke-width="1.3" transform="rotate(25 169.4 293.1)"/>
<ellipse cx="169.4" cy="293.1" rx="1.5" ry="2.1" fill="none" stroke="#1a1a1a" stroke-width="1" transform="rotate(25 169.4 293.1)"/>
<text x="116.9" y="293.6" font-size="11" stroke="#111" stroke-width="0.3">12</text>
<line x1="131.3" y1="296.6" x2="140.8" y2="301.2" stroke="#1a1a1a" stroke-width="1.0"/>
<polygon points="142.4,300.3 151.2,295.0 152.5,295.5 151.4,303.0 149.4,309.1 145.9,310.9 142.8,308.7" fill="#fff" stroke="#1a1a1a" stroke-width="1.2" stroke-linejoin="round"/>
<line x1="142.4" y1="300.3" x2="145.1" y2="302.5" stroke="#1a1a1a" stroke-width="1.0"/>
<line x1="145.1" y1="302.5" x2="151.4" y2="302.0" stroke="#1a1a1a" stroke-width="1.0"/>
<line x1="145.1" y1="302.5" x2="145.1" y2="309.0" stroke="#1a1a1a" stroke-width="1.0"/>
<ellipse cx="144.1" cy="303.8" rx="1.3" ry="1.8" fill="#333"/>
<ellipse cx="144.6" cy="308.5" rx="1.2" ry="1.5" fill="#333"/>
<ellipse cx="149.6" cy="299.5" rx="0.9" ry="1.6" fill="none" stroke="#1a1a1a" stroke-width="0.9"/>
<line x1="152.0" y1="299.0" x2="165.0" y2="293.0" stroke="#1a1a1a" stroke-width="1"/>
<ellipse cx="162.0" cy="311.3" rx="3.6" ry="4.6" fill="#fff" stroke="#1a1a1a" stroke-width="1.3" transform="rotate(25 162.0 311.3)"/>
<ellipse cx="162.0" cy="311.3" rx="1.5" ry="2.1" fill="none" stroke="#1a1a1a" stroke-width="1" transform="rotate(25 162.0 311.3)"/>
<line x1="170.2" y1="309.4" x2="181.6" y2="305.3" stroke="#1a1a1a" stroke-width="1.0"/>
<text x="184.9" y="309.1" font-size="11" stroke="#111" stroke-width="0.3">52</text>
<line x1="151.0" y1="303.5" x2="158.0" y2="308.5" stroke="#1a1a1a" stroke-width="1"/>
<ellipse cx="175.6" cy="320.3" rx="3.5" ry="4.1" fill="#fff" stroke="#1a1a1a" stroke-width="1.7" transform="rotate(25 175.6 320.3)"/>
<ellipse cx="175.6" cy="320.3" rx="1.8" ry="2.0" fill="#777" stroke="#1a1a1a" stroke-width="1.3" transform="rotate(25 175.6 320.3)"/>
<line x1="181.1" y1="324.9" x2="191.2" y2="330.3" stroke="#1a1a1a" stroke-width="1.0"/>
<text x="193.9" y="336.3" font-size="11" stroke="#111" stroke-width="0.3">51</text>
<polyline points="143.0,309.4 129.4,317.6 151.7,329.8 135.4,339.3" fill="none" stroke="#1a1a1a" stroke-width="1" stroke-linejoin="round"/>
<text x="257.3" y="261.0" font-size="11" stroke="#111" stroke-width="0.3">61</text>
<line x1="272.8" y1="264.0" x2="281.8" y2="268.6" stroke="#1a1a1a" stroke-width="1.0"/>
<text x="232.5" y="276.5" font-size="11" stroke="#111" stroke-width="0.3">63</text>
<line x1="246.9" y1="279.5" x2="256.5" y2="284.9" stroke="#1a1a1a" stroke-width="1.0"/>
<text x="212.9" y="288.7" font-size="11" stroke="#111" stroke-width="0.3">64</text>
<line x1="227.9" y1="290.3" x2="237.4" y2="295.8" stroke="#1a1a1a" stroke-width="1.0"/>
<line x1="242.9" y1="299.3" x2="279.0" y2="277.5" stroke="#1a1a1a" stroke-width="1"/>
<line x1="265.2" y1="281.0" x2="273.6" y2="286.0" stroke="#1a1a1a" stroke-width="1.0"/>
<line x1="247.5" y1="291.6" x2="255.9" y2="296.6" stroke="#1a1a1a" stroke-width="1.0"/>
<ellipse cx="242.9" cy="299.3" rx="3.5" ry="4.1" fill="#fff" stroke="#1a1a1a" stroke-width="1.7" transform="rotate(25 242.9 299.3)"/>
<ellipse cx="242.9" cy="299.3" rx="1.8" ry="2.0" fill="#777" stroke="#1a1a1a" stroke-width="1.3" transform="rotate(25 242.9 299.3)"/>
<ellipse cx="260.5" cy="289.0" rx="3.5" ry="4.1" fill="#fff" stroke="#1a1a1a" stroke-width="1.7" transform="rotate(25 260.5 289.0)"/>
<ellipse cx="260.5" cy="289.0" rx="1.8" ry="2.0" fill="#777" stroke="#1a1a1a" stroke-width="1.3" transform="rotate(25 260.5 289.0)"/>
<polygon points="283.6,272.9 274.5,277.6 276.2,281.2 285.6,276.9" fill="#fff" stroke="#1a1a1a" stroke-width="1.1"/>
<line x1="280.5" y1="274.7" x2="282.2" y2="278.3" stroke="#1a1a1a" stroke-width="0.8"/>
<line x1="278.2" y1="275.8" x2="279.9" y2="279.4" stroke="#1a1a1a" stroke-width="0.8"/>
<line x1="275.8" y1="276.9" x2="277.6" y2="280.5" stroke="#1a1a1a" stroke-width="0.8"/>
<ellipse cx="286.4" cy="274.0" rx="3" ry="4" fill="#fff" stroke="#1a1a1a" stroke-width="1.4" transform="rotate(154.0 286.4 274.0)"/>
<polyline points="238.8,301.2 231.2,308.0 247.0,319.5" fill="none" stroke="#1a1a1a" stroke-width="1" stroke-linejoin="round"/>
<polygon points="214.6,348.9 244.5,328.1 241.3,323.5 211.4,344.3" fill="#fff" stroke="#1a1a1a" stroke-width="1.1"/>
<polygon points="209.0,351.4 214.0,348.0 212.0,345.2 207.1,348.6" fill="#fff" stroke="#1a1a1a" stroke-width="1"/>
<ellipse cx="207.2" cy="350.6" rx="2" ry="2.4" fill="#fff" stroke="#1a1a1a" stroke-width="1.1"/>
<circle cx="244.9" cy="324.4" r="3.1" fill="#fff" stroke="#1a1a1a" stroke-width="1.4"/>
<circle cx="244.9" cy="324.4" r="1.2" fill="none" stroke="#1a1a1a" stroke-width="0.9"/>
<line x1="230.6" y1="342.0" x2="238.8" y2="346.7" stroke="#1a1a1a" stroke-width="1.0"/>
<text x="243.4" y="354.6" font-size="11" stroke="#111" stroke-width="0.3">60</text>
<line x1="205.0" y1="352.0" x2="184.4" y2="363.8" stroke="#1a1a1a" stroke-width="1"/>
<line x1="249.0" y1="322.0" x2="300.0" y2="288.0" stroke="#1a1a1a" stroke-width="1"/>
<line x1="285.8" y1="296.0" x2="294.2" y2="301.0" stroke="#1a1a1a" stroke-width="1.0"/>
<line x1="267.9" y1="306.9" x2="276.3" y2="311.9" stroke="#1a1a1a" stroke-width="1.0"/>
<ellipse cx="263.3" cy="314.8" rx="3.5" ry="4.1" fill="#fff" stroke="#1a1a1a" stroke-width="1.7" transform="rotate(25 263.3 314.8)"/>
<ellipse cx="263.3" cy="314.8" rx="1.8" ry="2.0" fill="#777" stroke="#1a1a1a" stroke-width="1.3" transform="rotate(25 263.3 314.8)"/>
<line x1="268.7" y1="321.6" x2="278.2" y2="326.5" stroke="#1a1a1a" stroke-width="1.0"/>
<text x="281.8" y="332.8" font-size="11" stroke="#111" stroke-width="0.3">64</text>
<ellipse cx="281.0" cy="304.0" rx="3.5" ry="4.1" fill="#fff" stroke="#1a1a1a" stroke-width="1.7" transform="rotate(25 281.0 304.0)"/>
<ellipse cx="281.0" cy="304.0" rx="1.8" ry="2.0" fill="#777" stroke="#1a1a1a" stroke-width="1.3" transform="rotate(25 281.0 304.0)"/>
<line x1="287.2" y1="310.2" x2="296.0" y2="314.8" stroke="#1a1a1a" stroke-width="1.0"/>
<text x="300.0" y="321.4" font-size="11" stroke="#111" stroke-width="0.3">63</text>
<polygon points="304.0,288.0 295.4,292.6 297.2,296.2 306.0,291.9" fill="#fff" stroke="#1a1a1a" stroke-width="1.1"/>
<line x1="301.0" y1="289.7" x2="302.9" y2="293.3" stroke="#1a1a1a" stroke-width="0.8"/>
<line x1="298.9" y1="290.8" x2="300.7" y2="294.4" stroke="#1a1a1a" stroke-width="0.8"/>
<line x1="296.7" y1="291.9" x2="298.5" y2="295.5" stroke="#1a1a1a" stroke-width="0.8"/>
<ellipse cx="306.8" cy="289.0" rx="3" ry="4" fill="#fff" stroke="#1a1a1a" stroke-width="1.4" transform="rotate(152.9 306.8 289.0)"/>
<line x1="312.2" y1="296.6" x2="321.0" y2="300.4" stroke="#1a1a1a" stroke-width="1.0"/>
<text x="323.7" y="308.3" font-size="11" stroke="#111" stroke-width="0.3">61</text>
<line x1="51.0" y1="343.4" x2="51.0" y2="369.6" stroke="#1a1a1a" stroke-width="1"/>
<ellipse cx="51.2" cy="373.2" rx="4.4" ry="3.2" fill="#fff" stroke="#1a1a1a" stroke-width="1.7"/>
<ellipse cx="51.2" cy="372.9" rx="2.2" ry="1.4" fill="none" stroke="#1a1a1a" stroke-width="1.2"/>
<line x1="58.5" y1="373.2" x2="69.0" y2="373.2" stroke="#1a1a1a" stroke-width="1.0"/>
<text x="72.1" y="377.8" font-size="11" stroke="#111" stroke-width="0.3">34</text>
<line x1="51.6" y1="390.0" x2="51.6" y2="402.0" stroke="#1a1a1a" stroke-width="1"/>
<ellipse cx="51.6" cy="388.0" rx="4.8" ry="2.9" fill="#fff" stroke="#1a1a1a" stroke-width="1.4"/>
<ellipse cx="51.6" cy="387.6" rx="2" ry="1.1" fill="none" stroke="#1a1a1a" stroke-width="1.1"/>
<line x1="58.5" y1="388.0" x2="69.0" y2="388.0" stroke="#1a1a1a" stroke-width="1.0"/>
<text x="72.1" y="392.9" font-size="11" stroke="#111" stroke-width="0.3">35</text>
<line x1="47.3" y1="397.6" x2="55.8" y2="392.6" stroke="#1a1a1a" stroke-width="1"/>
<ellipse cx="51.6" cy="404.6" rx="4.8" ry="2.9" fill="#fff" stroke="#1a1a1a" stroke-width="1.6"/>
<ellipse cx="51.6" cy="404.2" rx="2" ry="1.1" fill="none" stroke="#1a1a1a" stroke-width="1.1"/>
<line x1="58.5" y1="404.6" x2="69.0" y2="404.6" stroke="#1a1a1a" stroke-width="1.0"/>
<text x="72.1" y="408.8" font-size="11" stroke="#111" stroke-width="0.3">36</text>
<rect x="49.5" y="414.5" width="3.4" height="10.8" rx="1.2" fill="#fff" stroke="#1a1a1a" stroke-width="1.2"/>
<line x1="49.5" y1="417.7" x2="52.9" y2="417.7" stroke="#1a1a1a" stroke-width="0.9"/>
<line x1="49.5" y1="419.9" x2="52.9" y2="419.9" stroke="#1a1a1a" stroke-width="0.9"/>
<line x1="49.5" y1="422.1" x2="52.9" y2="422.1" stroke="#1a1a1a" stroke-width="0.9"/>
<ellipse cx="51.2" cy="425.3" rx="4.3" ry="3.3" fill="#fff" stroke="#1a1a1a" stroke-width="1.5"/>
<line x1="49.7" y1="422.5" x2="49.7" y2="428.1" stroke="#1a1a1a" stroke-width="0.9"/>
<line x1="52.7" y1="422.5" x2="52.7" y2="428.1" stroke="#1a1a1a" stroke-width="0.9"/>
<line x1="58.5" y1="425.3" x2="69.0" y2="425.3" stroke="#1a1a1a" stroke-width="1.0"/>
<text x="72.1" y="429.9" font-size="11" stroke="#111" stroke-width="0.3">33</text>
<text x="304.0" y="349.3" font-size="11" stroke="#111" stroke-width="0.3">57</text>
<line x1="319.8" y1="351.8" x2="328.5" y2="356.4" stroke="#1a1a1a" stroke-width="1.0"/>
<rect x="332.4" y="349.6" width="3.2" height="21.2" rx="1.6" fill="#fff" stroke="#1a1a1a" stroke-width="1.3"/>
<ellipse cx="334.0" cy="351.2" rx="1.9" ry="1.7" fill="#444" stroke="#1a1a1a" stroke-width="1"/>
<line x1="334.0" y1="353.6" x2="334.0" y2="369.3" stroke="#888" stroke-width="0.6"/>
<text x="295.3" y="365.1" font-size="11" stroke="#111" stroke-width="0.3">56</text>
<line x1="311.0" y1="366.7" x2="318.4" y2="370.8" stroke="#1a1a1a" stroke-width="1.0"/>
<ellipse cx="323.9" cy="375.7" rx="3.6" ry="4.6" fill="#fff" stroke="#1a1a1a" stroke-width="1.3" transform="rotate(25 323.9 375.7)"/>
<ellipse cx="323.9" cy="375.7" rx="1.5" ry="2.1" fill="none" stroke="#1a1a1a" stroke-width="1" transform="rotate(25 323.9 375.7)"/>
<text x="271.4" y="375.9" font-size="11" stroke="#111" stroke-width="0.3">12</text>
<line x1="285.8" y1="378.4" x2="295.3" y2="383.0" stroke="#1a1a1a" stroke-width="1.0"/>
<polygon points="296.8,382.3 305.6,377.0 306.9,377.5 305.8,385.0 303.8,391.1 300.3,392.9 297.2,390.7" fill="#fff" stroke="#1a1a1a" stroke-width="1.2" stroke-linejoin="round"/>
<line x1="296.8" y1="382.3" x2="299.5" y2="384.5" stroke="#1a1a1a" stroke-width="1.0"/>
<line x1="299.5" y1="384.5" x2="305.8" y2="384.0" stroke="#1a1a1a" stroke-width="1.0"/>
<line x1="299.5" y1="384.5" x2="299.5" y2="391.0" stroke="#1a1a1a" stroke-width="1.0"/>
<ellipse cx="298.5" cy="385.8" rx="1.3" ry="1.8" fill="#333"/>
<ellipse cx="299.0" cy="390.5" rx="1.2" ry="1.5" fill="#333"/>
<ellipse cx="304.0" cy="381.5" rx="0.9" ry="1.6" fill="none" stroke="#1a1a1a" stroke-width="0.9"/>
<line x1="309.0" y1="381.7" x2="319.8" y2="376.3" stroke="#1a1a1a" stroke-width="1"/>
<ellipse cx="317.0" cy="393.1" rx="3.6" ry="4.6" fill="#fff" stroke="#1a1a1a" stroke-width="1.3" transform="rotate(25 317.0 393.1)"/>
<ellipse cx="317.0" cy="393.1" rx="1.5" ry="2.1" fill="none" stroke="#1a1a1a" stroke-width="1" transform="rotate(25 317.0 393.1)"/>
<line x1="323.9" y1="390.4" x2="334.8" y2="387.1" stroke="#1a1a1a" stroke-width="1.0"/>
<text x="339.4" y="390.9" font-size="11" stroke="#111" stroke-width="0.3">52</text>
<line x1="306.0" y1="386.0" x2="313.0" y2="391.0" stroke="#1a1a1a" stroke-width="1"/>
<ellipse cx="330.1" cy="401.3" rx="3.5" ry="4.1" fill="#fff" stroke="#1a1a1a" stroke-width="1.7" transform="rotate(25 330.1 401.3)"/>
<ellipse cx="330.1" cy="401.3" rx="1.8" ry="2.0" fill="#777" stroke="#1a1a1a" stroke-width="1.3" transform="rotate(25 330.1 401.3)"/>
<line x1="334.8" y1="404.8" x2="344.3" y2="410.3" stroke="#1a1a1a" stroke-width="1.0"/>
<text x="348.4" y="416.8" font-size="11" stroke="#111" stroke-width="0.3">51</text>
<line x1="298.0" y1="388.5" x2="261.3" y2="411.6" stroke="#1a1a1a" stroke-width="1"/>
<polyline points="266.7,411.6 279.0,405.6 353.8,448.4 366.0,443.0" fill="none" stroke="#1a1a1a" stroke-width="1" stroke-linejoin="round"/>
<text x="418.7" y="354.5" font-size="11" stroke="#111" stroke-width="0.3">61</text>
<line x1="433.5" y1="356.1" x2="442.6" y2="360.8" stroke="#1a1a1a" stroke-width="1.0"/>
<text x="393.3" y="369.3" font-size="11" stroke="#111" stroke-width="0.3">63</text>
<line x1="408.1" y1="370.9" x2="417.2" y2="375.6" stroke="#1a1a1a" stroke-width="1.0"/>
<text x="374.3" y="379.9" font-size="11" stroke="#111" stroke-width="0.3">64</text>
<line x1="389.7" y1="381.5" x2="398.2" y2="386.8" stroke="#1a1a1a" stroke-width="1.0"/>
<line x1="404.5" y1="390.4" x2="438.8" y2="370.9" stroke="#1a1a1a" stroke-width="1"/>
<line x1="426.4" y1="372.9" x2="434.8" y2="377.9" stroke="#1a1a1a" stroke-width="1.0"/>
<line x1="409.2" y1="382.6" x2="417.6" y2="387.6" stroke="#1a1a1a" stroke-width="1.0"/>
<ellipse cx="404.5" cy="390.4" rx="3.5" ry="4.1" fill="#fff" stroke="#1a1a1a" stroke-width="1.7" transform="rotate(25 404.5 390.4)"/>
<ellipse cx="404.5" cy="390.4" rx="1.8" ry="2.0" fill="#777" stroke="#1a1a1a" stroke-width="1.3" transform="rotate(25 404.5 390.4)"/>
<ellipse cx="422.3" cy="379.8" rx="3.5" ry="4.1" fill="#fff" stroke="#1a1a1a" stroke-width="1.7" transform="rotate(25 422.3 379.8)"/>
<ellipse cx="422.3" cy="379.8" rx="1.8" ry="2.0" fill="#777" stroke="#1a1a1a" stroke-width="1.3" transform="rotate(25 422.3 379.8)"/>
<polygon points="445.0,365.6 434.8,370.6 436.5,374.2 446.8,369.5" fill="#fff" stroke="#1a1a1a" stroke-width="1.1"/>
<line x1="441.5" y1="367.4" x2="443.2" y2="371.0" stroke="#1a1a1a" stroke-width="0.8"/>
<line x1="438.9" y1="368.6" x2="440.6" y2="372.3" stroke="#1a1a1a" stroke-width="0.8"/>
<line x1="436.4" y1="369.8" x2="438.1" y2="373.5" stroke="#1a1a1a" stroke-width="0.8"/>
<ellipse cx="447.7" cy="366.7" rx="3" ry="4" fill="#fff" stroke="#1a1a1a" stroke-width="1.4" transform="rotate(154.7 447.7 366.7)"/>
<polyline points="400.7,392.1 392.3,396.7 410.0,411.0" fill="none" stroke="#1a1a1a" stroke-width="1" stroke-linejoin="round"/>
<polygon points="374.9,440.0 405.6,418.7 402.4,414.1 371.7,435.4" fill="#fff" stroke="#1a1a1a" stroke-width="1.1"/>
<polygon points="369.3,442.5 374.3,439.1 372.3,436.3 367.4,439.7" fill="#fff" stroke="#1a1a1a" stroke-width="1"/>
<ellipse cx="367.5" cy="441.7" rx="2" ry="2.4" fill="#fff" stroke="#1a1a1a" stroke-width="1.1"/>
<circle cx="406.0" cy="415.0" r="3.1" fill="#fff" stroke="#1a1a1a" stroke-width="1.4"/>
<circle cx="406.0" cy="415.0" r="1.2" fill="none" stroke="#1a1a1a" stroke-width="0.9"/>
<line x1="392.3" y1="432.3" x2="401.8" y2="437.5" stroke="#1a1a1a" stroke-width="1.0"/>
<text x="406.0" y="444.4" font-size="11" stroke="#111" stroke-width="0.3">60</text>
<line x1="408.1" y1="413.6" x2="459.5" y2="385.3" stroke="#1a1a1a" stroke-width="1"/>
<line x1="447.0" y1="387.8" x2="455.4" y2="392.8" stroke="#1a1a1a" stroke-width="1.0"/>
<line x1="429.5" y1="398.1" x2="437.9" y2="403.1" stroke="#1a1a1a" stroke-width="1.0"/>
<ellipse cx="424.4" cy="405.8" rx="3.5" ry="4.1" fill="#fff" stroke="#1a1a1a" stroke-width="1.7" transform="rotate(25 424.4 405.8)"/>
<ellipse cx="424.4" cy="405.8" rx="1.8" ry="2.0" fill="#777" stroke="#1a1a1a" stroke-width="1.3" transform="rotate(25 424.4 405.8)"/>
<line x1="429.3" y1="409.4" x2="438.4" y2="414.9" stroke="#1a1a1a" stroke-width="1.0"/>
<text x="443.0" y="424.3" font-size="11" stroke="#111" stroke-width="0.3">64</text>
<ellipse cx="443.0" cy="395.3" rx="3.5" ry="4.1" fill="#fff" stroke="#1a1a1a" stroke-width="1.7" transform="rotate(25 443.0 395.3)"/>
<ellipse cx="443.0" cy="395.3" rx="1.8" ry="2.0" fill="#777" stroke="#1a1a1a" stroke-width="1.3" transform="rotate(25 443.0 395.3)"/>
<line x1="448.3" y1="398.4" x2="456.8" y2="403.7" stroke="#1a1a1a" stroke-width="1.0"/>
<text x="461.6" y="411.6" font-size="11" stroke="#111" stroke-width="0.3">63</text>
<polygon points="465.6,379.5 455.4,385.2 457.3,388.7 467.7,383.4" fill="#fff" stroke="#1a1a1a" stroke-width="1.1"/>
<line x1="462.1" y1="381.6" x2="464.0" y2="385.1" stroke="#1a1a1a" stroke-width="0.8"/>
<line x1="459.5" y1="383.0" x2="461.4" y2="386.5" stroke="#1a1a1a" stroke-width="0.8"/>
<line x1="457.0" y1="384.4" x2="458.9" y2="387.9" stroke="#1a1a1a" stroke-width="0.8"/>
<ellipse cx="468.4" cy="380.5" rx="3" ry="4" fill="#fff" stroke="#1a1a1a" stroke-width="1.4" transform="rotate(151.7 468.4 380.5)"/>
<line x1="472.6" y1="385.7" x2="482.1" y2="390.4" stroke="#1a1a1a" stroke-width="1.0"/>
<text x="485.3" y="398.9" font-size="11" stroke="#111" stroke-width="0.3">61</text>
<line x1="310.5" y1="502.2" x2="323.2" y2="495.9" stroke="#1a1a1a" stroke-width="1"/>
<ellipse cx="306.5" cy="505.4" rx="3.5" ry="4.1" fill="#fff" stroke="#1a1a1a" stroke-width="1.7" transform="rotate(25 306.5 505.4)"/>
<ellipse cx="306.5" cy="505.4" rx="1.8" ry="2.0" fill="#777" stroke="#1a1a1a" stroke-width="1.3" transform="rotate(25 306.5 505.4)"/>
<line x1="312.9" y1="510.2" x2="319.7" y2="513.7" stroke="#1a1a1a" stroke-width="1.0"/>
<text x="324.4" y="522.8" font-size="11" stroke="#111" stroke-width="0.3">27</text>
<ellipse cx="289.8" cy="516.2" rx="3.6" ry="4.6" fill="#fff" stroke="#1a1a1a" stroke-width="1.3" transform="rotate(25 289.8 516.2)"/>
<ellipse cx="289.8" cy="516.2" rx="1.5" ry="2.1" fill="none" stroke="#1a1a1a" stroke-width="1" transform="rotate(25 289.8 516.2)"/>
<line x1="294.9" y1="521.0" x2="303.8" y2="526.0" stroke="#1a1a1a" stroke-width="1.0"/>
<text x="308.1" y="533.1" font-size="11" stroke="#111" stroke-width="0.3">28</text>
<line x1="268.9" y1="527.6" x2="289.8" y2="516.2" stroke="#1a1a1a" stroke-width="1.0"/>
<line x1="275.1" y1="519.4" x2="283.5" y2="524.4" stroke="#1a1a1a" stroke-width="1.0"/>
<ellipse cx="268.9" cy="527.6" rx="3.6" ry="4.6" fill="#fff" stroke="#1a1a1a" stroke-width="1.3" transform="rotate(25 268.9 527.6)"/>
<ellipse cx="268.9" cy="527.6" rx="1.5" ry="2.1" fill="none" stroke="#1a1a1a" stroke-width="1" transform="rotate(25 268.9 527.6)"/>
<line x1="274.8" y1="532.0" x2="283.5" y2="537.1" stroke="#1a1a1a" stroke-width="1.0"/>
<text x="288.3" y="544.2" font-size="11" stroke="#111" stroke-width="0.3">29</text>
<polygon points="251.7,540.4 259.5,535.6 257.5,532.1 249.5,536.6" fill="#fff" stroke="#1a1a1a" stroke-width="1.1"/>
<line x1="254.4" y1="538.6" x2="252.4" y2="535.1" stroke="#1a1a1a" stroke-width="0.8"/>
<line x1="256.4" y1="537.4" x2="254.3" y2="534.0" stroke="#1a1a1a" stroke-width="0.8"/>
<line x1="258.3" y1="536.2" x2="256.3" y2="532.8" stroke="#1a1a1a" stroke-width="0.8"/>
<ellipse cx="248.9" cy="539.5" rx="3" ry="4" fill="#fff" stroke="#1a1a1a" stroke-width="1.4" transform="rotate(-30.6 248.9 539.5)"/>
<line x1="254.1" y1="543.5" x2="263.7" y2="548.6" stroke="#1a1a1a" stroke-width="1.0"/>
<text x="267.6" y="554.6" font-size="11" stroke="#111" stroke-width="0.3">26</text>
</svg></body></html>
